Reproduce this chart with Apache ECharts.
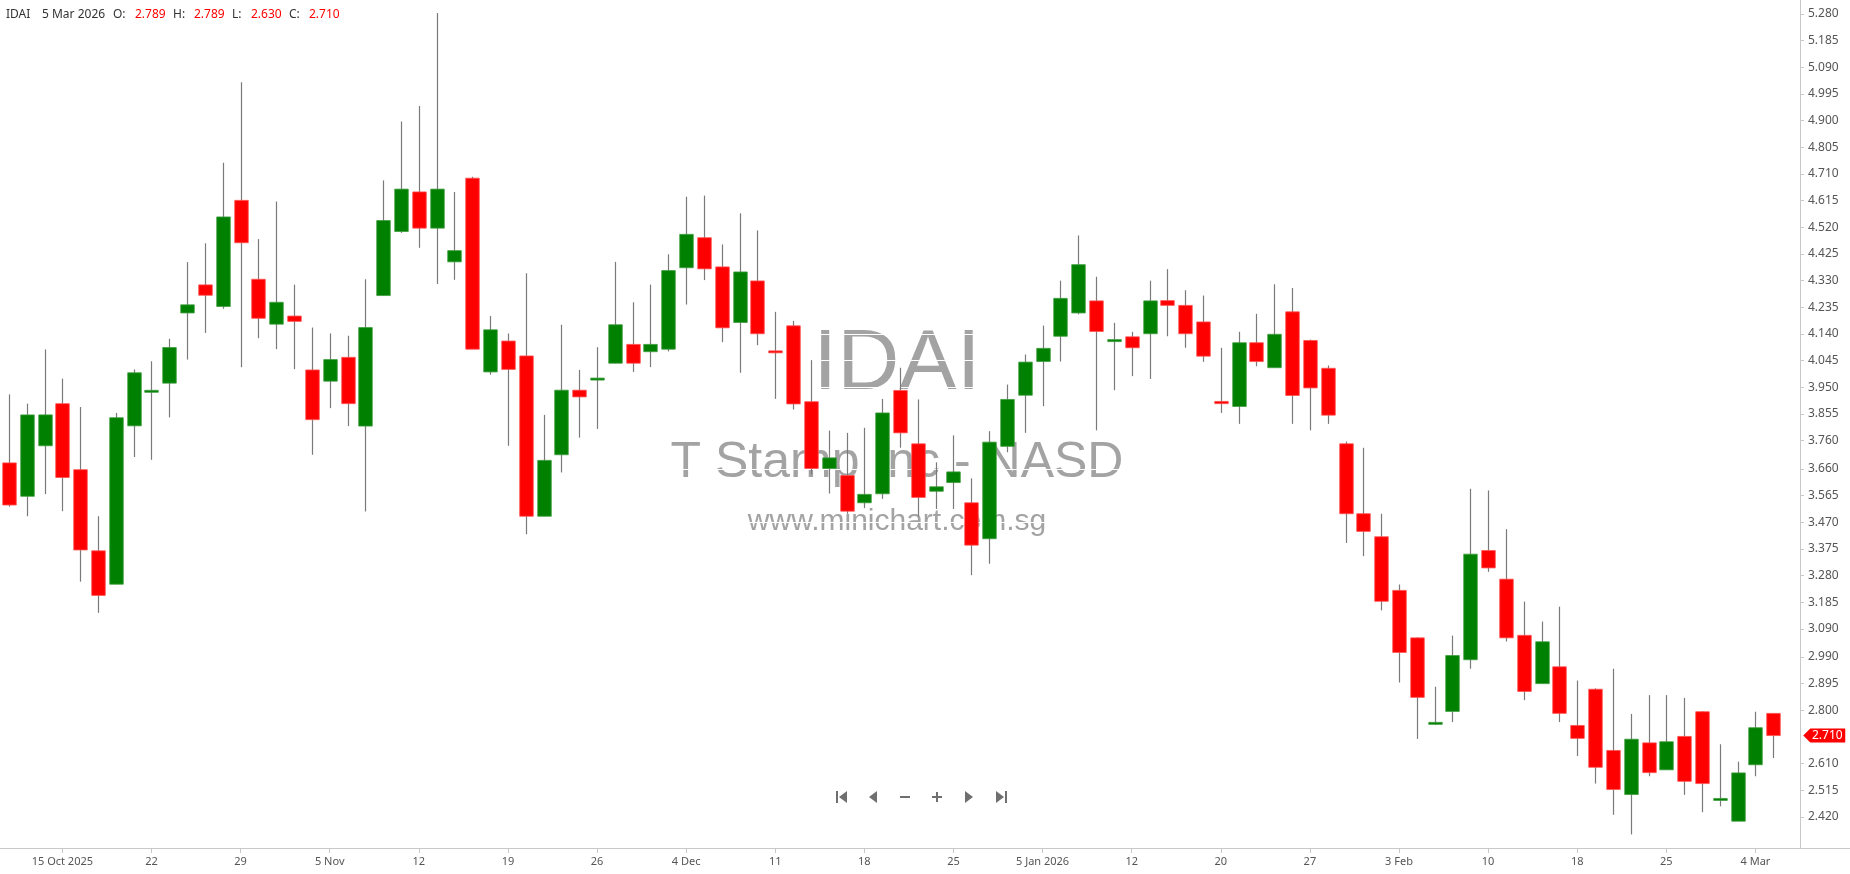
<!DOCTYPE html>
<html>
<head>
<meta charset="utf-8">
<script src="https://cdn.jsdelivr.net/npm/echarts@6/dist/echarts.min.js"></script>
<style>
html,body{margin:0;padding:0;background:#ffffff;}
#chart{width:1850px;height:874px;}
</style>
</head>
<body>
<div id="chart"></div>
<script>
// ---------------- DATA ----------------
const symbolName = 'IDAI';
const companyName = 'T Stamp Inc - NASD';
const siteName = 'www.minichart.com.sg';

const dates = [
 '2025-10-10','2025-10-13','2025-10-14','2025-10-15','2025-10-16','2025-10-17','2025-10-20','2025-10-21','2025-10-22','2025-10-23',
 '2025-10-24','2025-10-27','2025-10-28','2025-10-29','2025-10-30','2025-10-31','2025-11-03','2025-11-04','2025-11-05','2025-11-06',
 '2025-11-07','2025-11-10','2025-11-11','2025-11-12','2025-11-13','2025-11-14','2025-11-17','2025-11-18','2025-11-19','2025-11-20',
 '2025-11-21','2025-11-24','2025-11-25','2025-11-26','2025-11-28','2025-12-01','2025-12-02','2025-12-03','2025-12-04','2025-12-05',
 '2025-12-08','2025-12-09','2025-12-10','2025-12-11','2025-12-12','2025-12-15','2025-12-16','2025-12-17','2025-12-18','2025-12-19',
 '2025-12-22','2025-12-23','2025-12-24','2025-12-25','2025-12-29','2025-12-30','2025-12-31','2026-01-02','2026-01-05','2026-01-06',
 '2026-01-07','2026-01-08','2026-01-09','2026-01-12','2026-01-13','2026-01-14','2026-01-15','2026-01-16','2026-01-20','2026-01-21',
 '2026-01-22','2026-01-23','2026-01-26','2026-01-27','2026-01-28','2026-01-29','2026-01-30','2026-02-02','2026-02-03','2026-02-04',
 '2026-02-05','2026-02-06','2026-02-09','2026-02-10','2026-02-11','2026-02-12','2026-02-13','2026-02-17','2026-02-18','2026-02-19',
 '2026-02-20','2026-02-23','2026-02-24','2026-02-25','2026-02-26','2026-02-27','2026-03-02','2026-03-03','2026-03-04','2026-03-05'
];

const openP = [
 3.681,3.562,3.742,3.892,3.657,3.368,3.249,3.813,3.934,3.965,
 4.215,4.315,4.238,4.616,4.335,4.175,4.204,4.012,3.972,4.057,
 3.812,4.277,4.505,4.646,4.517,4.397,4.695,4.005,4.115,4.062,
 3.491,3.710,3.940,3.978,4.036,4.103,4.077,4.086,4.376,4.483,
 4.379,4.181,4.329,4.079,4.169,3.899,3.661,3.636,3.539,3.571,
 3.939,3.749,3.580,3.611,3.539,3.411,3.740,3.922,4.042,4.132,
 4.215,4.258,4.115,4.130,4.141,4.259,4.242,4.183,3.900,3.882,
 4.109,4.020,4.219,4.117,4.018,3.749,3.500,3.418,3.227,3.058,
 2.752,2.796,2.980,3.369,3.267,3.067,2.895,2.955,2.746,2.875,
 2.657,2.500,2.684,2.588,2.707,2.795,2.481,2.405,2.606,2.789
];
const highP = [
 3.925,3.892,4.085,3.981,3.880,3.491,3.859,4.014,4.043,4.123,
 4.396,4.463,4.750,5.037,4.478,4.612,4.316,4.163,4.142,4.134,
 4.335,4.687,4.897,4.952,5.283,4.646,4.700,4.204,4.142,4.356,
 3.852,4.173,4.012,4.093,4.397,4.253,4.316,4.424,4.629,4.633,
 4.459,4.570,4.509,4.219,4.187,4.047,3.796,3.788,3.806,3.909,
 4.020,3.907,3.683,3.779,3.626,3.794,3.960,4.067,4.170,4.330,
 4.491,4.344,4.180,4.148,4.330,4.371,4.296,4.277,4.091,4.148,
 4.212,4.317,4.304,4.120,4.028,3.757,3.735,3.500,3.248,3.060,
 2.884,3.066,3.589,3.583,3.445,3.187,3.116,3.169,2.906,2.878,
 2.948,2.787,2.854,2.854,2.844,2.797,2.679,2.617,2.795,2.789
];
const lowP = [
 3.525,3.491,3.570,3.509,3.258,3.147,3.249,3.702,3.692,3.843,
 4.049,4.144,4.230,4.022,4.125,4.086,4.015,3.710,3.876,3.812,
 3.508,4.277,4.500,4.447,4.318,4.333,4.086,3.995,3.742,3.427,
 3.491,3.647,3.771,3.802,4.036,4.005,4.022,4.078,4.245,4.332,
 4.111,4.002,4.100,3.909,3.871,3.640,3.572,3.500,3.520,3.553,
 3.735,3.491,3.517,3.517,3.281,3.322,3.719,3.788,3.883,4.042,
 4.210,3.797,3.940,3.990,3.980,4.132,4.091,4.041,3.859,3.820,
 4.025,4.020,3.820,3.797,3.820,3.396,3.349,3.156,2.899,2.698,
 2.748,2.758,2.948,3.293,3.045,2.836,2.895,2.758,2.637,2.539,
 2.428,2.358,2.565,2.588,2.499,2.437,2.458,2.405,2.565,2.630
];
const closeP = [
 3.531,3.852,3.852,3.629,3.371,3.209,3.842,4.002,3.938,4.092,
 4.244,4.278,4.557,4.465,4.196,4.253,4.185,3.835,4.049,3.892,
 4.163,4.544,4.656,4.517,4.656,4.437,4.086,4.155,4.014,3.491,
 3.690,3.940,3.916,3.981,4.173,4.036,4.103,4.366,4.495,4.372,
 4.162,4.361,4.141,4.074,3.891,3.661,3.699,3.509,3.569,3.859,
 3.788,3.558,3.596,3.649,3.388,3.755,3.907,4.040,4.089,4.267,
 4.387,4.149,4.118,4.091,4.258,4.242,4.141,4.061,3.892,4.109,
 4.042,4.139,3.921,3.948,3.851,3.500,3.437,3.188,3.006,2.846,
 2.755,2.995,3.356,3.307,3.058,2.867,3.044,2.789,2.700,2.597,
 2.518,2.697,2.578,2.688,2.547,2.539,2.484,2.577,2.738,2.710
];

const yTickValues = [
 2.420,2.515,2.610,2.800,2.895,2.990,3.090,3.185,3.280,3.375,
 3.470,3.565,3.660,3.760,3.855,3.950,4.045,4.140,4.235,4.330,
 4.425,4.520,4.615,4.710,4.805,4.900,4.995,5.090,5.185,5.280
];

// ---------------- HELPERS ----------------
const MONTHS = ['Jan','Feb','Mar','Apr','May','Jun','Jul','Aug','Sep','Oct','Nov','Dec'];
const isLabelIdx = (i) => i % 5 === 3;
const xLabelText = [];
(function(){
  let pm = null, py = null;
  dates.forEach((d, i) => {
    if (!isLabelIdx(i)) { xLabelText.push(''); return; }
    const [y, m, dd] = d.split('-').map(Number);
    let s = String(dd);
    if (pm === null || m !== pm) s += ' ' + MONTHS[m - 1];
    if (py === null || y !== py) s += ' ' + y;
    pm = m; py = y;
    xLabelText.push(s);
  });
})();
function fullDate(d){ const [y,m,dd]=d.split('-').map(Number); return dd+' '+MONTHS[m-1]+' '+y; }

const candleData = dates.map((d, i) => [i, openP[i], closeP[i], lowP[i], highP[i]]);
const last = dates.length - 1;
const lastUp = closeP[last] >= openP[last];
const UP = '#008000', DOWN = '#ff0000';

function renderCandle(params, api) {
  const i = api.value(0);
  const o = api.value(1), c = api.value(2), l = api.value(3), h = api.value(4);
  const pO = api.coord([i, o]), pC = api.coord([i, c]);
  const pL = api.coord([i, l]), pH = api.coord([i, h]);
  const bw = api.size([1, 0])[0] * 0.76;
  const up = c >= o;
  let top = Math.min(pO[1], pC[1]), bot = Math.max(pO[1], pC[1]);
  if (bot - top < 2) { const m = (top + bot) / 2; top = m - 1; bot = m + 1; }
  const cx = Math.round(pO[0]) + 0.5;
  return {
    type: 'group',
    children: [
      { type: 'line', shape: { x1: cx, y1: pH[1], x2: cx, y2: pL[1] },
        style: { stroke: '#7a7a7a', lineWidth: 1.2 } },
      { type: 'rect', shape: { x: cx - bw / 2, y: top, width: bw, height: bot - top },
        style: { fill: up ? UP : DOWN, stroke: up ? '#3d9c3d' : '#ff5050', lineWidth: 0.8 } }
    ]
  };
}

const chart = echarts.init(document.getElementById('chart'), null, { renderer: 'canvas' });

const FONT = 'Noto Sans';
const GRAY = '#6f6f6f';

const headerY = 17;
const headerItems = [
  { x: 6, text: symbolName, fill: '#333' },
  { x: 42, text: fullDate(dates[last]), fill: '#333' },
  { x: 113, text: 'O:', fill: '#333' },
  { x: 135, text: openP[last].toFixed(3), fill: lastUp ? UP : DOWN },
  { x: 173, text: 'H:', fill: '#333' },
  { x: 194, text: highP[last].toFixed(3), fill: lastUp ? UP : DOWN },
  { x: 232, text: 'L:', fill: '#333' },
  { x: 251, text: lowP[last].toFixed(3), fill: lastUp ? UP : DOWN },
  { x: 289, text: 'C:', fill: '#333' },
  { x: 309, text: closeP[last].toFixed(3), fill: lastUp ? UP : DOWN }
];

const graphics = [];
headerItems.forEach(it => graphics.push({
  type: 'text', left: it.x, top: headerY - 8, z: 10,
  style: { text: it.text, fill: it.fill, font: '12px "' + FONT + '"' }
}));
// watermark
graphics.push({ type: 'text', x: 897, y: 365, z: -5,
  style: { text: symbolName, fill: '#a3a3a3', font: '86px "Liberation Sans"', textAlign: 'center', textVerticalAlign: 'middle' } });
graphics.push({ type: 'text', x: 897, y: 463, z: -5,
  style: { text: companyName, fill: '#a3a3a3', font: '50px "Liberation Sans"', textAlign: 'center', textVerticalAlign: 'middle' } });
graphics.push({ type: 'text', x: 897, y: 522, z: -5,
  style: { text: siteName, fill: '#a3a3a3', font: '30px "Liberation Sans"', textAlign: 'center', textVerticalAlign: 'middle' } });
// navigation icons
const ny = 797;
graphics.push({ type: 'rect', z: 10, shape: { x: 836, y: ny - 6, width: 2, height: 12 }, style: { fill: GRAY } });
graphics.push({ type: 'polygon', z: 10, shape: { points: [[847, ny - 6], [847, ny + 6], [839, ny]] }, style: { fill: GRAY } });
graphics.push({ type: 'polygon', z: 10, shape: { points: [[877, ny - 6], [877, ny + 6], [869, ny]] }, style: { fill: GRAY } });
graphics.push({ type: 'rect', z: 10, shape: { x: 900, y: ny - 1, width: 10, height: 2 }, style: { fill: GRAY } });
graphics.push({ type: 'rect', z: 10, shape: { x: 932, y: ny - 1, width: 10, height: 2 }, style: { fill: GRAY } });
graphics.push({ type: 'rect', z: 10, shape: { x: 936, y: ny - 5, width: 2, height: 10 }, style: { fill: GRAY } });
graphics.push({ type: 'polygon', z: 10, shape: { points: [[965, ny - 6], [965, ny + 6], [973, ny]] }, style: { fill: GRAY } });
graphics.push({ type: 'polygon', z: 10, shape: { points: [[996, ny - 6], [996, ny + 6], [1004, ny]] }, style: { fill: GRAY } });
graphics.push({ type: 'rect', z: 10, shape: { x: 1005, y: ny - 6, width: 2, height: 12 }, style: { fill: GRAY } });
// axis line extension to the right edge
graphics.push({ type: 'line', z: 10, shape: { x1: 1800, y1: 848.5, x2: 1850, y2: 848.5 }, style: { stroke: '#c8c8c8', lineWidth: 1 } });

const option = {
  animation: false,
  backgroundColor: '#ffffff',
  grid: { left: 0, right: 50, top: 0, bottom: 26, containLabel: false },
  xAxis: {
    type: 'category',
    data: dates.concat(['']),
    boundaryGap: true,
    axisLine: { show: true, lineStyle: { color: '#c8c8c8', width: 1 } },
    axisTick: { show: true, alignWithLabel: true, length: 5, interval: (i) => isLabelIdx(i),
      lineStyle: { color: '#c8c8c8' } },
    axisLabel: { interval: (i) => isLabelIdx(i), formatter: (v, i) => xLabelText[i] || '',
      color: '#555', fontSize: 11, fontFamily: FONT, margin: 8 },
    splitLine: { show: false }
  },
  yAxis: {
    type: 'value',
    position: 'right',
    min: 2.3096,
    max: 5.3295,
    axisLine: { show: true, lineStyle: { color: '#c8c8c8', width: 1 } },
    axisTick: { show: true, length: 4, customValues: yTickValues, lineStyle: { color: '#c8c8c8' } },
    axisLabel: { customValues: yTickValues, formatter: (v) => v.toFixed(3), color: '#555',
      fontSize: 12, fontFamily: FONT, margin: 8 },
    splitLine: { show: true, lineStyle: { color: '#ffffff', width: 1 } }
  },
  graphic: graphics,
  series: [
    {
      type: 'custom',
      name: symbolName,
      renderItem: renderCandle,
      encode: { x: 0, y: [1, 2, 3, 4] },
      data: candleData,
      z: 2,
      clip: false
    },
    {
      type: 'scatter',
      data: [[last, closeP[last]]],
      symbol: 'path://M0,7 L7,0 L42,0 L42,14 L7,14 Z',
      symbolSize: [42, 14],
      symbolOffset: [51, 0],
      clip: false,
      silent: true,
      z: 20,
      itemStyle: { color: lastUp ? UP : DOWN, opacity: 1 },
      label: { show: true, position: 'inside', offset: [3, 0], formatter: () => closeP[last].toFixed(3),
        color: '#ffffff', fontSize: 12, fontFamily: FONT }
    }
  ]
};
chart.setOption(option);
</script>
</body>
</html>
